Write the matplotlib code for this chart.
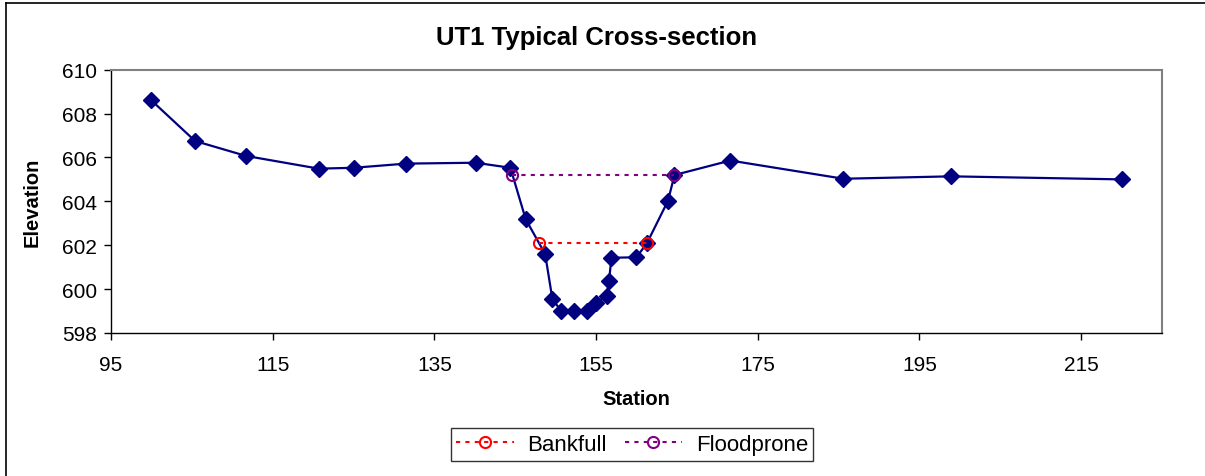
import matplotlib
matplotlib.use("Agg")
import matplotlib.pyplot as plt
from matplotlib.lines import Line2D

plt.rcParams['font.family'] = ['Liberation Sans', 'DejaVu Sans']

# surveyed cross-section
station = [100.0, 105.4, 111.7, 120.7, 125.0, 131.5, 140.1, 144.4, 146.3, 148.7,
           149.6, 150.7, 152.3, 153.9, 155.0, 156.3, 156.6, 156.9, 160.0, 161.3,
           163.9, 164.7, 171.6, 185.6, 198.9, 220.1]
elevation = [608.6, 606.75, 606.07, 605.49, 605.53, 605.72, 605.76, 605.53, 603.18, 601.6,
             599.54, 599.0, 598.98, 598.98, 599.37, 599.7, 600.37, 601.43, 601.45, 602.1,
             604.03, 605.2, 605.86, 605.03, 605.14, 605.0]

bankfull_x = [147.9, 161.3]
bankfull_y = [602.1, 602.1]
floodprone_x = [144.6, 164.7]
floodprone_y = [605.2, 605.2]

xticks = [95, 115, 135, 155, 175, 195, 215]
yticks = [598, 600, 602, 604, 606, 608, 610]

W, H = 1205, 477
fig = plt.figure(figsize=(W / 100, H / 100), dpi=100)
ax = fig.add_axes([111 / W, 1 - 334 / H, (1162 - 111) / W, (334 - 70.7) / H])

# outer chart border (only top and left fall inside the image)
fig.add_artist(Line2D([6 / W, 6 / W], [0, 1 - 4 / H], transform=fig.transFigure,
                      color='black', lw=1.2))
fig.add_artist(Line2D([6 / W, 1], [1 - 4 / H, 1 - 4 / H], transform=fig.transFigure,
                      color='black', lw=1.2))

ax.plot(station, elevation, color='#000080', lw=1.6, marker='D', markersize=8.5,
        markerfacecolor='#000080', markeredgecolor='#000080', zorder=3)
ax.plot(bankfull_x, bankfull_y, color='#FF0000', lw=1.5, dashes=(2, 2.5), marker='o',
        markersize=8, markerfacecolor='none', markeredgecolor='#FF0000', markeredgewidth=1.5,
        label='Bankfull', zorder=4)
ax.plot(floodprone_x, floodprone_y, color='#800080', lw=1.5, dashes=(2, 2.5), marker='o',
        markersize=8, markerfacecolor='none', markeredgecolor='#800080', markeredgewidth=1.5,
        label='Floodprone', zorder=4)

ax.set_xlim(95, 225)
ax.set_ylim(598, 610)
ax.set_xticks(xticks)
ax.set_yticks(yticks)
ax.tick_params(direction='out', length=5, width=1, labelsize=15)
ax.tick_params(axis='x', pad=11)
ax.tick_params(axis='y', pad=5)

for side in ['top', 'right']:
    ax.spines[side].set_color('#808080')
    ax.spines[side].set_linewidth(1.5)
for side in ['left', 'bottom']:
    ax.spines[side].set_color('black')
    ax.spines[side].set_linewidth(1)

fig.text(597 / W, 1 - 38 / H, 'UT1 Typical Cross-section', fontsize=18.5,
         fontweight='bold', ha='center', va='center')
fig.text(636 / W, 1 - 400 / H, 'Station', fontsize=14.5, fontweight='bold',
         ha='center', va='center')
fig.text(32 / W, 1 - 202 / H, 'Elevation', fontsize=14.5, fontweight='bold',
         ha='center', va='center', rotation=90)

leg = fig.legend(loc='center', bbox_to_anchor=(632 / W, 1 - 445.5 / H), ncol=2, fontsize=16,
                 frameon=True, fancybox=False, edgecolor='black', handlelength=2.6,
                 borderpad=0.25, columnspacing=0.8, handletextpad=0.6, borderaxespad=0)
leg.get_frame().set_linewidth(1)

fig.savefig('out.png', dpi=100)
